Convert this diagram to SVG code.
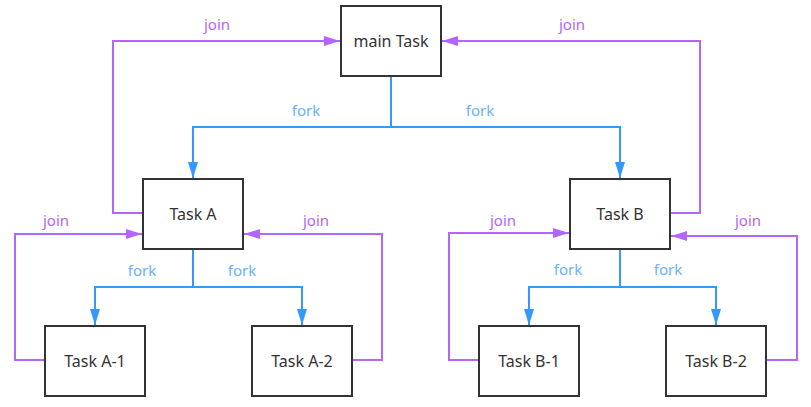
<svg xmlns="http://www.w3.org/2000/svg" width="811" height="407" viewBox="0 0 811 407">
<defs>
<style>
.node rect{fill:#ffffff;stroke:#333333;stroke-width:2}
.node text{font-family:"Noto Sans","Open Sans",sans-serif;font-size:16px;fill:#333333;text-anchor:middle;dominant-baseline:central}
.fork{fill:none;stroke:#3399ff;stroke-width:2}
.join{fill:none;stroke:#b366ff;stroke-width:2}
.lf{font-family:"Noto Sans","Open Sans",sans-serif;font-size:15px;fill:#66b2ff;text-anchor:middle}
.lj{font-family:"Noto Sans","Open Sans",sans-serif;font-size:15px;fill:#b366ff;text-anchor:middle}
</style>
<marker id="ab" viewBox="0 0 16 10" refX="16" refY="5" markerWidth="8" markerHeight="5" markerUnits="strokeWidth" orient="auto"><path d="M0,0 L16,5 L0,10 z" fill="#3399ff"/></marker>
<marker id="ap" viewBox="0 0 16 10" refX="16" refY="5" markerWidth="8" markerHeight="5" markerUnits="strokeWidth" orient="auto"><path d="M0,0 L16,5 L0,10 z" fill="#b366ff"/></marker>
</defs>
<rect width="811" height="407" fill="#ffffff"/>
<g id="connectors">
<path class="fork" d="M391,76 V127 H193 V178" marker-end="url(#ab)"/>
<path class="fork" d="M391,127 H620 V178" marker-end="url(#ab)"/>
<path class="fork" d="M193,249 V287 H95 V325" marker-end="url(#ab)"/>
<path class="fork" d="M193,287 H302 V325" marker-end="url(#ab)"/>
<path class="fork" d="M620,249 V287 H529 V325" marker-end="url(#ab)"/>
<path class="fork" d="M620,287 H716 V325" marker-end="url(#ab)"/>
<path class="join" d="M143,213 H113 V41 H340" marker-end="url(#ap)"/>
<path class="join" d="M670,213 H700 V41 H442" marker-end="url(#ap)"/>
<path class="join" d="M45,360 H15 V234 H142" marker-end="url(#ap)"/>
<path class="join" d="M352,360 H382 V234 H244" marker-end="url(#ap)"/>
<path class="join" d="M479,360 H449 V233 H569" marker-end="url(#ap)"/>
<path class="join" d="M766,360 H797 V236 H671" marker-end="url(#ap)"/>
<text class="lf" x="306" y="116">fork</text>
<text class="lf" x="480" y="116">fork</text>
<text class="lf" x="142" y="276">fork</text>
<text class="lf" x="242" y="276">fork</text>
<text class="lf" x="568" y="275">fork</text>
<text class="lf" x="668" y="275">fork</text>
<text class="lj" x="217" y="30">join</text>
<text class="lj" x="572" y="30">join</text>
<text class="lj" x="56" y="226">join</text>
<text class="lj" x="316" y="226">join</text>
<text class="lj" x="503" y="226">join</text>
<text class="lj" x="748" y="226">join</text>
</g>
<g id="main" class="node"><rect x="341" y="6" width="100" height="70"/><text x="391" y="41">main Task</text></g>
<g id="taskA" class="node"><rect x="143" y="179" width="100" height="70"/><text x="193" y="214">Task A</text></g>
<g id="taskB" class="node"><rect x="570" y="179" width="100" height="70"/><text x="620" y="214">Task B</text></g>
<g id="taskA1" class="node"><rect x="45" y="326" width="100" height="70"/><text x="95" y="361">Task A-1</text></g>
<g id="taskA2" class="node"><rect x="252" y="326" width="100" height="70"/><text x="302" y="361">Task A-2</text></g>
<g id="taskB1" class="node"><rect x="479" y="326" width="100" height="70"/><text x="529" y="361">Task B-1</text></g>
<g id="taskB2" class="node"><rect x="666" y="326" width="100" height="70"/><text x="716" y="361">Task B-2</text></g>
</svg>
